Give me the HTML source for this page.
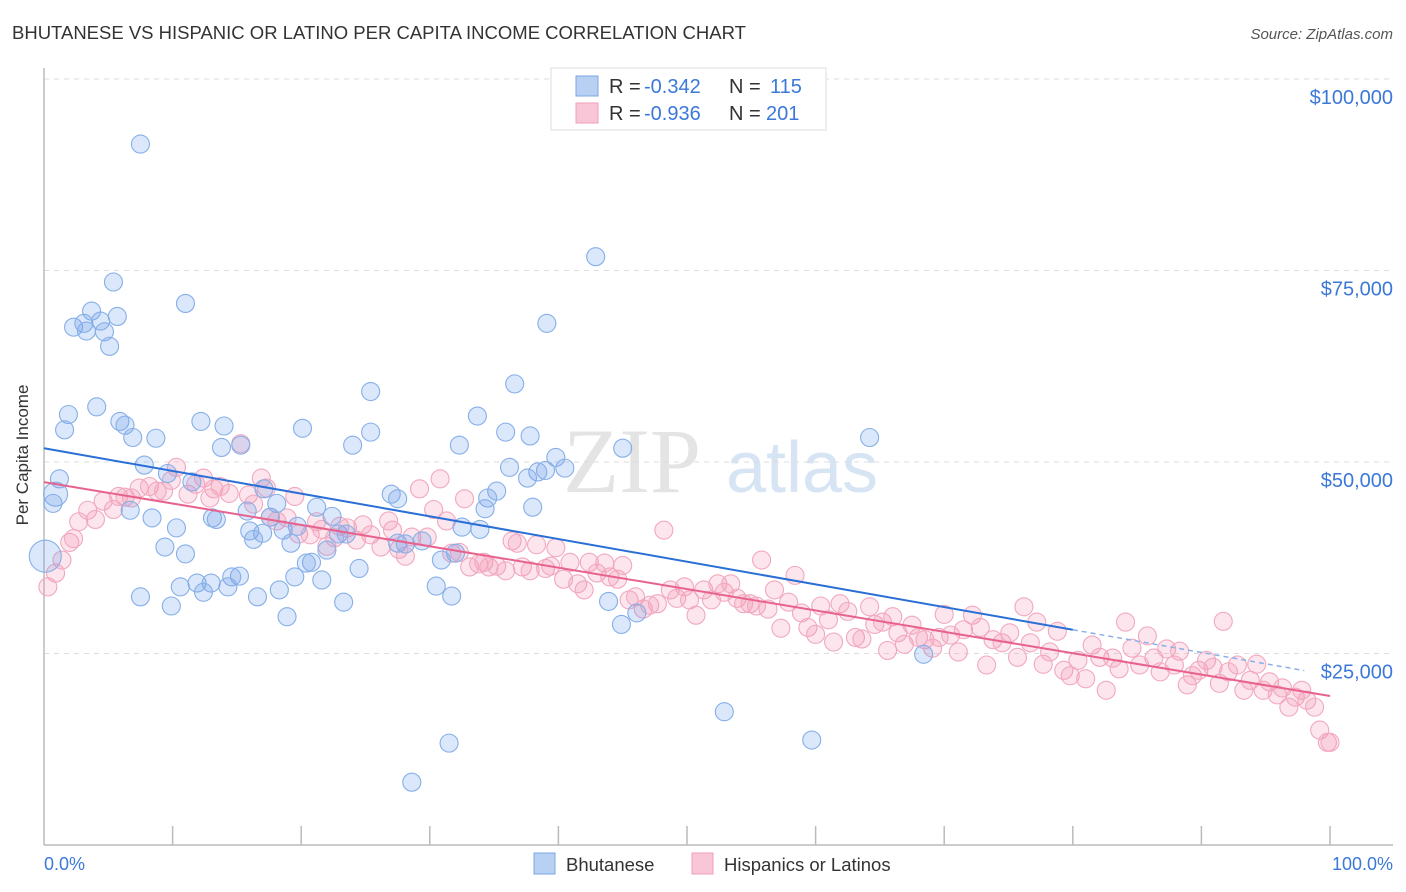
<!DOCTYPE html>
<html><head><meta charset="utf-8"><style>
body{margin:0;background:#fff;font-family:"Liberation Sans",sans-serif}
svg{display:block}
</style></head><body>
<svg id="chart" width="1406" height="892">
<text x="12" y="39" font-size="18.5" fill="#333">BHUTANESE VS HISPANIC OR LATINO PER CAPITA INCOME CORRELATION CHART</text>
<text x="1393" y="39" font-size="15" fill="#555" font-style="italic" text-anchor="end">Source: ZipAtlas.com</text>
<g>
<text x="632" y="492" font-size="92" fill="#e4e4e4" font-family="Liberation Serif,serif" text-anchor="middle">ZIP</text>
<text x="802" y="492" font-size="72" fill="#d6e4f4" text-anchor="middle">atlas</text>
</g>
<g id="grid"></g>
<g id="axes"></g>
<g id="pts"></g>
<g id="lines"></g>
<g>
<rect x="551" y="68" width="275" height="62" fill="#fff" stroke="#ddd"/>
<rect x="576" y="76" width="22" height="20" fill="#b8d0f2" stroke="#7aa7e6"/>
<rect x="576" y="103" width="22" height="20" fill="#f8c6d6" stroke="#f0a0b8"/>
<text x="609" y="93" font-size="20" fill="#333">R =</text>
<text x="644" y="93" font-size="20" fill="#3b78d8">-0.342</text>
<text x="729" y="93" font-size="20" fill="#333">N =</text>
<text x="770" y="93" font-size="20" fill="#3b78d8">115</text>
<text x="609" y="120" font-size="20" fill="#333">R =</text>
<text x="644" y="120" font-size="20" fill="#3b78d8">-0.936</text>
<text x="729" y="120" font-size="20" fill="#333">N =</text>
<text x="766" y="120" font-size="20" fill="#3b78d8">201</text>
</g>
<text x="28" y="455" font-size="17" fill="#333" text-anchor="middle" transform="rotate(-90 28 455)">Per Capita Income</text>
<text x="44" y="870" font-size="18" fill="#3b78d8">0.0%</text>
<text x="1393" y="870" font-size="18" fill="#3b78d8" text-anchor="end">100.0%</text>
<g><rect x="534" y="853" width="21" height="21" fill="#b8d0f2" stroke="#7aa7e6"/><text x="566" y="871" font-size="18.5" fill="#333">Bhutanese</text></g>
<g><rect x="692" y="853" width="21" height="21" fill="#f8c6d6" stroke="#f0a0b8"/><text x="724" y="871" font-size="18.5" fill="#333">Hispanics or Latinos</text></g>
</svg>
<script>
const yTicks=[25000,50000,75000,100000];
const yTickLabels=["$25,000","$50,000","$75,000","$100,000"];
const blueX=[7.5,42.9,5.4,11,3.7,5.7,2.3,3.1,4.4,3.3,4.7,5.1,39.1,36.6,25.4,4.1,1.9,12.2,14,33.7,5.9,6.3,1.6,20.1,25.4,35.9,37.8,6.9,8.7,64.2,24,32.3,15.3,13.8,45,39.8,7.8,36.2,40.5,39,38.4,9.6,37.6,1.2,11.5,35.2,0.9,27,34.5,27.5,17.1,0.7,18.1,34.3,38,21.2,6.7,15.8,8.4,13.1,13.4,17.6,19.7,32.5,33.9,22.4,10.3,16,17,22.9,23.5,18.6,16.3,19.2,27.5,28.1,29.4,22,9.4,32,11,30.9,20.8,20.4,0.1,24.5,15.2,14.6,19.5,21.6,11.9,13,10.6,12.4,14.3,30.5,31.7,18.3,7.5,16.6,23.3,9.9,43.9,46.1,18.9,44.9,68.4,52.9,59.7,31.5,28.6];
const blueY=[91.5,76.8,73.5,70.7,69.7,69,67.6,68.1,68.4,67.1,67,65.1,68.1,60.2,59.2,57.2,56.2,55.3,54.7,56,55.3,54.8,54.2,54.4,53.9,53.9,53.4,53.2,53.1,53.2,52.2,52.2,52.2,51.9,51.8,50.6,49.6,49.3,49.2,48.9,48.7,48.5,47.9,47.8,47.4,46.2,45.8,45.8,45.3,45.2,46.5,44.6,44.6,43.9,44.1,44.1,43.7,43.6,42.7,42.7,42.5,42.8,41.6,41.5,41.2,42.9,41.4,41,40.7,40.6,40.6,41.1,39.9,39.4,39.4,39.3,39.7,38.5,38.9,38.1,38,37.2,36.9,36.8,37.7,36.1,35.1,35,35,34.6,34.2,34.2,33.7,33,33.7,33.8,32.5,33.3,32.4,32.4,31.7,31.2,31.8,30.3,29.8,28.8,24.9,17.4,13.7,13.3,8.2];
const pinkX=[0.3,0.9,1.4,2,2.3,2.7,3.4,4,4.6,5.4,5.8,6.3,6.8,7.4,8.2,8.8,9.3,9.9,10.3,11.2,11.8,12.4,12.9,13.2,13.7,14.4,15.3,15.9,16.3,16.9,17.3,17.6,18.1,18.9,19.5,19.8,20.7,21.2,21.6,22,22.6,23,23.6,24.3,24.8,25.4,26.2,26.8,27.1,27.6,28.1,28.6,29.2,29.8,30.3,30.8,31.3,31.7,32.3,32.7,33.1,33.8,34.2,34.6,35.2,35.9,36.4,36.8,37.2,37.8,38.3,39,39.4,39.8,40.4,40.9,41.5,42,42.4,43,43.6,44,44.6,45,45.5,46,46.6,47.1,47.7,48.2,48.7,49.2,49.8,50.2,50.7,51.3,51.9,52.4,52.9,53.4,53.9,54.4,54.9,55.4,55.8,56.3,56.8,57.3,57.9,58.4,58.9,59.4,60,60.4,61,61.4,61.9,62.5,63.1,63.6,64.2,64.6,65.2,65.6,66,66.4,66.9,67.5,68,68.5,69.1,69.6,70,70.5,71.1,71.5,72.2,72.8,73.3,73.8,74.5,75.1,75.7,76.2,76.7,77.2,77.7,78.2,78.8,79.3,79.8,80.4,81,81.5,82.1,82.6,83.1,83.6,84.1,84.6,85.2,85.8,86.3,86.8,87.3,87.9,88.3,88.9,89.3,89.8,90.4,90.9,91.4,91.7,92.1,92.8,93.3,93.8,94.3,94.8,95.3,95.9,96.3,96.8,97.3,97.8,98.2,98.8,99.2,99.8,100];
const pinkY=[33.7,35.5,37.2,39.5,40,42.2,43.7,42.5,44.9,43.8,45.5,45.4,45.3,46.6,46.8,46.2,46.2,47.6,49.3,45.8,47.1,47.9,45.3,46.5,46.8,45.9,52.4,45.7,44.5,47.9,46.6,42.8,42.3,42.7,45.5,40.6,40.5,42.2,41.2,39,40.1,41.6,41.4,39.8,41.8,40.5,38.9,42.3,41.1,38.6,37.7,40.2,46.5,40.2,43.8,47.8,42.3,38.1,38.2,45.2,36.3,36.7,36.9,36.3,36.4,35.8,39.7,39.4,36.3,35.8,39.2,36.1,36.4,38.8,34.7,36.9,34.1,33.3,36.9,35.5,36.8,35,34.7,36.5,32,32.4,30.8,31.3,31.5,41.1,33.3,32.2,33.7,32,30,33.3,32,34.1,33,34.1,32.2,31.5,31.5,31.2,37.2,30.8,33.3,28.3,31.7,35.2,30.3,28.4,27.5,31.2,29.4,26.5,31.5,30.5,27.1,26.9,31.1,28.8,29.1,25.4,29.8,27.7,26.2,28.7,27.1,26.8,25.7,27.1,30.1,27.4,25.2,28.1,30,28.4,23.5,26.8,26.4,27.7,24.5,31.1,26.4,29.1,23.6,25.2,27.9,22.8,22.1,24.1,21.7,26.1,24.5,20.2,24.4,23,29.1,25.7,23.5,27.3,24.4,22.6,25.6,23.5,25.3,20.9,22.1,22.8,24.1,23.2,21.1,29.2,22.6,23.5,20.2,21.5,23.6,20.2,21.3,19.6,20.5,18,19.3,20.2,18.9,18,15,13.4,13.4];
const X0=44,X1=1330,Y0=845,PPK=191.5/25;
const xs=p=>X0+(X1-X0)*p/100;
const ys=v=>Y0-v*PPK;
const NS="http://www.w3.org/2000/svg";
function mk(tag,attrs,parent){const e=document.createElementNS(NS,tag);for(const k in attrs)e.setAttribute(k,attrs[k]);parent.appendChild(e);return e;}
const grid=document.getElementById('grid'),axes=document.getElementById('axes'),pts=document.getElementById('pts'),lines=document.getElementById('lines');
yTicks.forEach((t,i)=>{
 const y=ys(t/1000);
 const l=mk('line',{x1:44,x2:1393,y1:y,y2:y,stroke:'#ddd','stroke-dasharray':'5,5'},grid);
 
 
 const tx=mk('text',{x:1393,y:y+25,'font-size':20,fill:'#3b78d8','text-anchor':'end'},grid);
 tx.textContent=yTickLabels[i];
 
 
});
const ax=mk('line',{x1:44,x2:1393,y1:845,y2:845,stroke:'#bbb','stroke-width':1.5},axes);


const ay=mk('line',{x1:44,x2:44,y1:68,y2:845,stroke:'#bbb','stroke-width':1.5},axes);


for(let i=1;i<=10;i++){const x=xs(i*10);const t=mk('line',{x1:x,x2:x,y1:826,y2:845,stroke:'#bbb','stroke-width':1.5},axes);
 
 }
function drawPts(X,Y,fill,stroke,name){
 X.forEach((x,i)=>{const r=(name==='bhutanese-point'&&i===84)?16:(name==='bhutanese-point'&&i===46?12:9);
  const c=mk('circle',{cx:xs(x),cy:ys(Y[i]),r:r,fill:fill,stroke:stroke,'stroke-width':1.1},pts);
  
  });
}
drawPts(pinkX,pinkY,'rgba(244,150,180,0.25)','#f2a8bf','hispanic-point');
drawPts(blueX,blueY,'rgba(110,160,235,0.25)','#86afe8','bhutanese-point');
function fit(X,Y){const n=X.length;let mx=0,my=0;X.forEach((x,i)=>{mx+=x;my+=Y[i]});mx/=n;my/=n;let sxy=0,sxx=0;X.forEach((x,i)=>{sxy+=(x-mx)*(Y[i]-my);sxx+=(x-mx)**2});const b=sxy/sxx;return[my-b*mx,b];}
const [ba,bb]=fit(blueX,blueY),[pa,pb]=fit(pinkX,pinkY);
const bl=mk('line',{x1:xs(0),y1:ys(ba),x2:xs(80),y2:ys(ba+bb*80),stroke:'#2a6fd6','stroke-width':2},lines);


const bd=mk('line',{x1:xs(80),y1:ys(ba+bb*80),x2:xs(98),y2:ys(ba+bb*98),stroke:'#8ab0e8','stroke-width':1.5,'stroke-dasharray':'5,4'},lines);


const pl=mk('line',{x1:xs(0),y1:ys(pa),x2:xs(100),y2:ys(pa+pb*100),stroke:'#e8628e','stroke-width':2},lines);


</script>
</body></html>
